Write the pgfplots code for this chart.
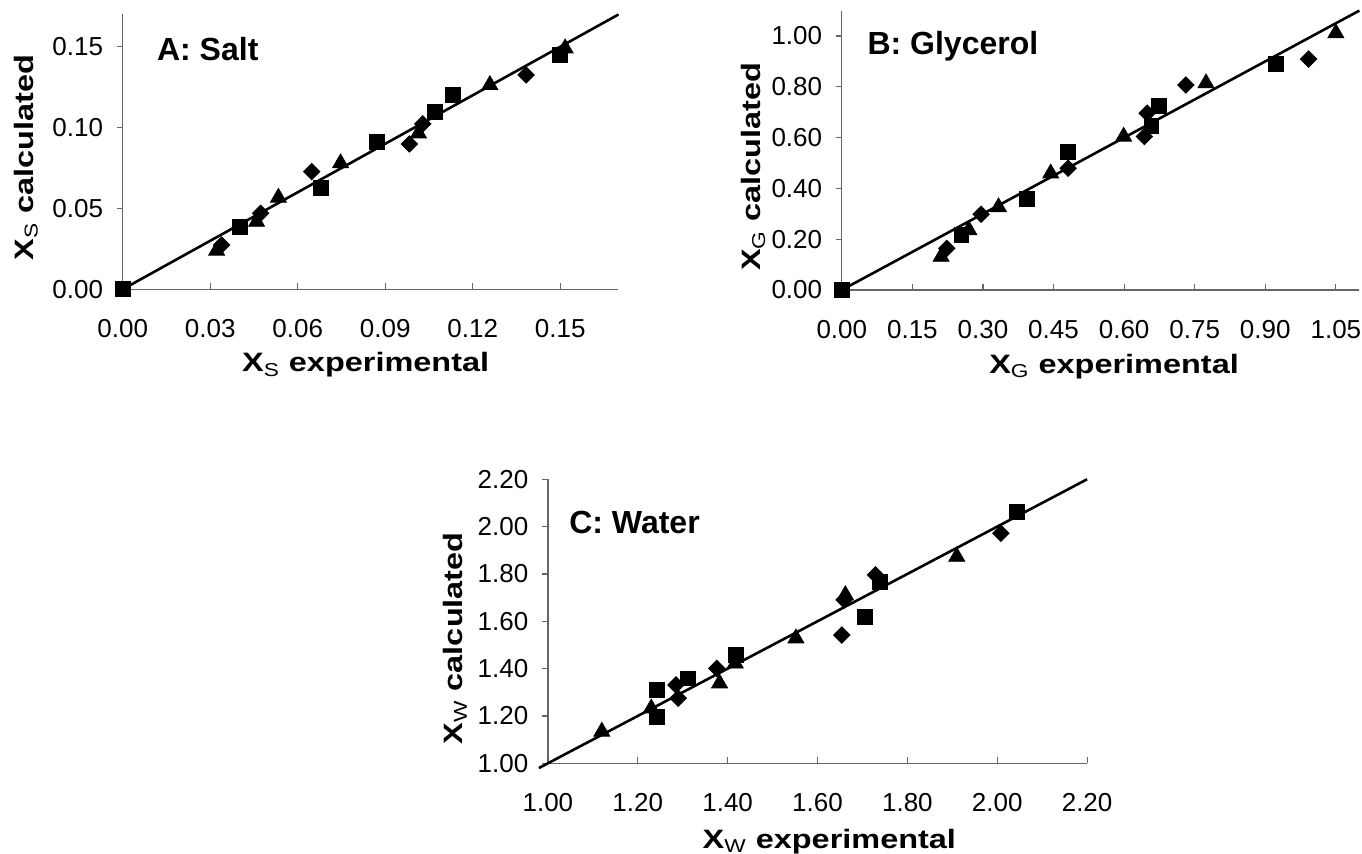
\documentclass[border=0pt]{standalone}
\usepackage{fontspec}
\setmainfont{Liberation Sans}
\newfontfamily\lblfont{Liberation Sans}[FakeStretch=1.22]
\usepackage{pgfplots}
\pgfplotsset{compat=1.18}

\pgfplotsset{
  panel/.style={
    scale only axis, clip=false, anchor=south west,
    axis x line*=bottom, axis y line*=left,
    axis line style={black!60, line width=0.6pt},
    tick style={black!60, line width=0.6pt},
    major tick length=3pt,
    xtick align=inside, ytick align=outside,
    scaled ticks=false,
    xticklabel style={yshift=-11.5pt},
    yticklabel style={xshift=-3.3pt},
    /pgf/number format/.cd, fixed, fixed zerofill, precision=2, assume math mode=true,
    /pgfplots/.cd,
    tick label style={font=\fontsize{13}{15}\selectfont},
    label style={font=\lblfont\bfseries\fontsize{13.3}{15}\selectfont},
  },
  fitline/.style={black, line width=1.3pt, mark=none},
  dia/.style={only marks, black, mark=square*, mark size=2.9pt, mark options={rotate=45, fill=black}},
  sq/.style={only marks, black, mark=square*, mark size=3.7pt, mark options={fill=black}},
  tri/.style={only marks, black, mark=triangle*, mark size=4.6pt, mark options={fill=black}},
}
\newcommand{\ttl}{\bfseries\fontsize{16}{18}\selectfont}

\begin{document}
\begin{tikzpicture}
\useasboundingbox (0,0) rectangle (681pt,427pt);

% A: Salt
\begin{axis}[panel, at={(61.35pt,282.35pt)}, width=247.9pt, height=137.4pt,
  xmin=0, xmax=0.17, ymin=0, ymax=0.17,
  xtick={0,0.03,0.06,0.09,0.12,0.15}, ytick={0,0.05,0.10,0.15},
  xlabel={X\textsubscript{\mdseries S} experimental},
  ylabel={X\textsubscript{\mdseries S} calculated},
  xlabel style={at={(axis description cs:0.49,-0.300)}, anchor=base},
  ylabel style={at={(axis description cs:-0.1803,0.48)}, anchor=base},
]
\addplot[fitline] coordinates {(0,0) (0.17,0.17)};
\addplot[dia] coordinates {(0.0339,0.0274) (0.0473,0.0470) (0.0648,0.0728) (0.0983,0.0899) (0.1029,0.1023) (0.1383,0.1326)};
\addplot[sq] coordinates {(0,0) (0.0402,0.0387) (0.0679,0.0629) (0.0871,0.0913) (0.1071,0.1099) (0.1131,0.1202) (0.1499,0.1450)};
\addplot[tri] coordinates {(0.0322,0.0239) (0.0459,0.0418) (0.0534,0.0567) (0.0747,0.0780) (0.1014,0.0965) (0.1259,0.1264) (0.1517,0.1491)};
\node[anchor=base west, inner sep=0pt, font=\ttl] at (rel axis cs:0.0686,0.833) {A: Salt};
\end{axis}

% B: Glycerol
\begin{axis}[panel, at={(420.9pt,282pt)}, width=258.8pt, height=139.7pt,
  xmin=0, xmax=1.1, ymin=0, ymax=1.1,
  xtick={0,0.15,0.30,0.45,0.60,0.75,0.90,1.05}, ytick={0,0.2,0.4,0.6,0.8,1.0},
  xlabel={X\textsubscript{\mdseries G} experimental},
  ylabel={X\textsubscript{\mdseries G} calculated},
  xlabel style={at={(axis description cs:0.526,-0.2985)}, anchor=base},
  ylabel style={at={(axis description cs:-0.1565,0.441)}, anchor=base},
]
\addplot[fitline] coordinates {(0,0) (1.1,1.1)};
\addplot[dia] coordinates {(0.223,0.164) (0.296,0.298) (0.481,0.479) (0.643,0.604) (0.649,0.696) (0.731,0.807) (0.992,0.909)};
\addplot[sq] coordinates {(0,0) (0.254,0.217) (0.393,0.358) (0.481,0.545) (0.658,0.646) (0.674,0.724) (0.923,0.890)};
\addplot[tri] coordinates {(0.211,0.131) (0.270,0.236) (0.333,0.326) (0.444,0.459) (0.599,0.604) (0.774,0.814) (1.050,1.011)};
\node[anchor=base west, inner sep=0pt, font=\ttl] at (rel axis cs:0.049,0.844) {B: Glycerol};
\end{axis}

% C: Water
\begin{axis}[panel, at={(273.95pt,45.35pt)}, width=269.6pt, height=142pt,
  xmin=1, xmax=2.2, ymin=1, ymax=2.2,
  xtick={1,1.2,1.4,1.6,1.8,2.0,2.2}, ytick={1,1.2,1.4,1.6,1.8,2.0,2.2},
  xlabel={X\textsubscript{\mdseries W} experimental},
  ylabel={X\textsubscript{\mdseries W} calculated},
  xlabel style={at={(axis description cs:0.522,-0.2993)}, anchor=base},
  ylabel style={at={(axis description cs:-0.1584,0.44)}, anchor=base},
]
\addplot[fitline] coordinates {(0.98,0.98) (2.2,2.2)};
\addplot[dia] coordinates {(1.290,1.275) (1.285,1.331) (1.376,1.401) (1.654,1.542) (1.659,1.690) (1.729,1.796) (2.008,1.972)};
\addplot[sq] coordinates {(1.243,1.197) (1.243,1.310) (1.312,1.359) (1.419,1.457) (1.706,1.619) (1.739,1.767) (2.043,2.063)};
\addplot[tri] coordinates {(1.120,1.134) (1.230,1.232) (1.382,1.338) (1.417,1.422) (1.552,1.528) (1.662,1.711) (1.910,1.873)};
\node[anchor=base west, inner sep=0pt, font=\ttl] at (rel axis cs:0.039,0.81) {C: Water};
\end{axis}
\end{tikzpicture}
\end{document}
